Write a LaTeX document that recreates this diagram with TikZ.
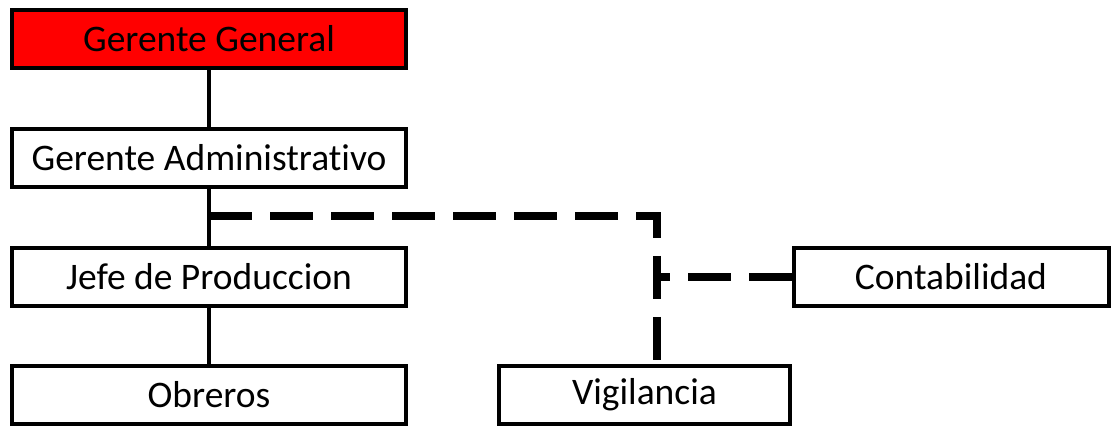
\documentclass[tikz,border=0pt]{standalone}
\usepackage{fontspec}
\setmainfont{Carlito}[Ligatures=NoCommon]
\usetikzlibrary{positioning}

\tikzset{
  puesto/.style={draw, line width=4pt, rectangle, minimum height=58pt,
    inner sep=0pt, font=\fontsize{37.5}{40}\selectfont},
  linea/.style={line width=4pt},
  punteada/.style={line width=8pt, dash pattern=on 43pt off 18pt}
}

\begin{document}
\begin{tikzpicture}[x=1pt, y=-1pt]
    \useasboundingbox (0,0) rectangle (1113,427);

    % Cargos de la columna izquierda
    \node[puesto, fill=red, minimum width=394pt] (gg) at (209,39) {Gerente General};
    \node[puesto, fill=white, minimum width=394pt] (ga) at (209,158) {Gerente Administrativo};
    \node[puesto, fill=white, minimum width=394pt] (jp) at (209,277) {Jefe de Produccion};
    \node[puesto, fill=white, minimum width=394pt] (ob) at (209,395) {Obreros};

    % Cargos de staff
    \node[puesto, fill=white, minimum width=291pt] (vi) at (644.5,395) {Vigilancia};
    \node[puesto, fill=white, minimum width=315pt] (co) at (951,277) {Contabilidad};

    % Linea de mando
    \draw[linea] (gg) -- (ga);
    \draw[linea] (ga) -- (jp);
    \draw[linea] (jp) -- (ob);

    % Relaciones de staff (punteadas)
    \coordinate (esq) at (657,216);
    \draw[punteada] (ga.south |- esq) -- (esq) -- (vi.north -| esq);
    \draw[punteada] (co.west) -- (co.west -| esq);
\end{tikzpicture}
\end{document}
